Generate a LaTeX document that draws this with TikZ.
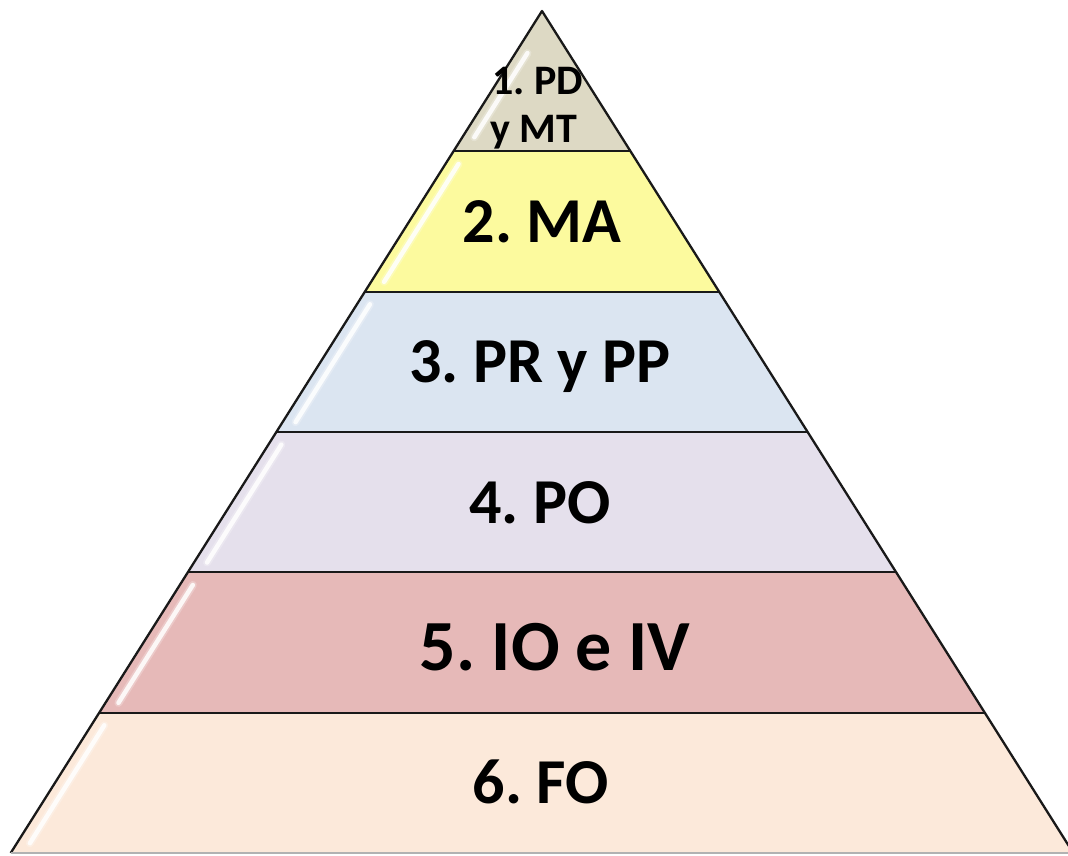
\documentclass[tikz,border=0pt]{standalone}
\usepackage{fontspec}
\setmainfont{Carlito}
\usetikzlibrary{calc}
\definecolor{c1}{HTML}{DDD9C4}
\definecolor{c2}{HTML}{FCFA9E}
\definecolor{c3}{HTML}{DBE5F1}
\definecolor{c4}{HTML}{E5E0EC}
\definecolor{c5}{HTML}{E6B9B8}
\definecolor{c6}{HTML}{FCE9DA}
\frenchspacing
\begin{document}
\begin{tikzpicture}[x=1pt,y=-1pt,
  edge/.style={draw=black!90,line width=2.3pt,line join=round},
  lbl/.style={anchor=base,inner sep=0pt,font=\bfseries\fontsize{64}{64}\selectfont},
  lblbig/.style={anchor=base,inner sep=0pt,font=\bfseries\fontsize{72}{72}\selectfont},
  lblsmall/.style={anchor=base,inner sep=0pt,font=\bfseries\fontsize{42}{42}\selectfont},
  glosswide/.style={draw=white,line width=8pt,line cap=round,opacity=0.25},
  gloss/.style={draw=white,line width=4.5pt,line cap=round,opacity=0.85}]
\useasboundingbox (0,0) rectangle (1068,855);
\clip (0,0) rectangle (1068,855);
\coordinate (A) at (542,11);
\coordinate (B) at (10.7,853);
\coordinate (C) at (1073.3,853);
% top triangle
\fill[c1] (A) -- ($(A)!1/6!(B)$) -- ($(A)!1/6!(C)$) -- cycle;
\draw[glosswide] ($(A)!0.3!($(A)!1/6!(B)$)+(12,0)$) -- ($(A)!0.9!($(A)!1/6!(B)$)+(12,0)$);
\draw[gloss] ($(A)!0.3!($(A)!1/6!(B)$)+(12,0)$) -- ($(A)!0.9!($(A)!1/6!(B)$)+(12,0)$);
% trapezoid layers
\foreach \k/\col in {1/c2,2/c3,3/c4,4/c5,5/c6}{
  \pgfmathsetmacro\ft{\k/6}
  \pgfmathsetmacro\fb{(\k+1)/6}
  \coordinate (P) at ($(A)!\ft!(B)$);
  \coordinate (Q) at ($(A)!\fb!(B)$);
  \fill[\col] (P) -- ($(A)!\ft!(C)$) -- ($(A)!\fb!(C)$) -- (Q) -- cycle;
  \draw[glosswide] ($(P)!0.09!(Q)+(13,0)$) -- ($(P)!0.93!(Q)+(13,0)$);
  \draw[gloss] ($(P)!0.09!(Q)+(13,0)$) -- ($(P)!0.93!(Q)+(13,0)$);
}
% outline and separators
\draw[edge] (B) -- (A) -- (C);
\draw[draw=black!30,line width=2pt] (B) -- (C);
\foreach \k in {1,...,5}{
  \pgfmathsetmacro\ft{\k/6}
  \draw[edge] ($(A)!\ft!(B)$) -- ($(A)!\ft!(C)$);
}
% labels
\node[lblsmall] (t1a) at (537.5,94) {1. PD};
\node[lblsmall] (t1b) at (534,142) {y MT};
\node[lbl] (t2) at (542,242) {2. MA};
\node[lbl] (t3) at (540,382) {3. PR y PP};
\node[lbl] (t4) at (540,523) {4. PO};
\node[lblbig] (t5) at (555,670) {5. IO e IV};
\node[lbl] (t6) at (541,803) {6. FO};
\end{tikzpicture}
\end{document}
